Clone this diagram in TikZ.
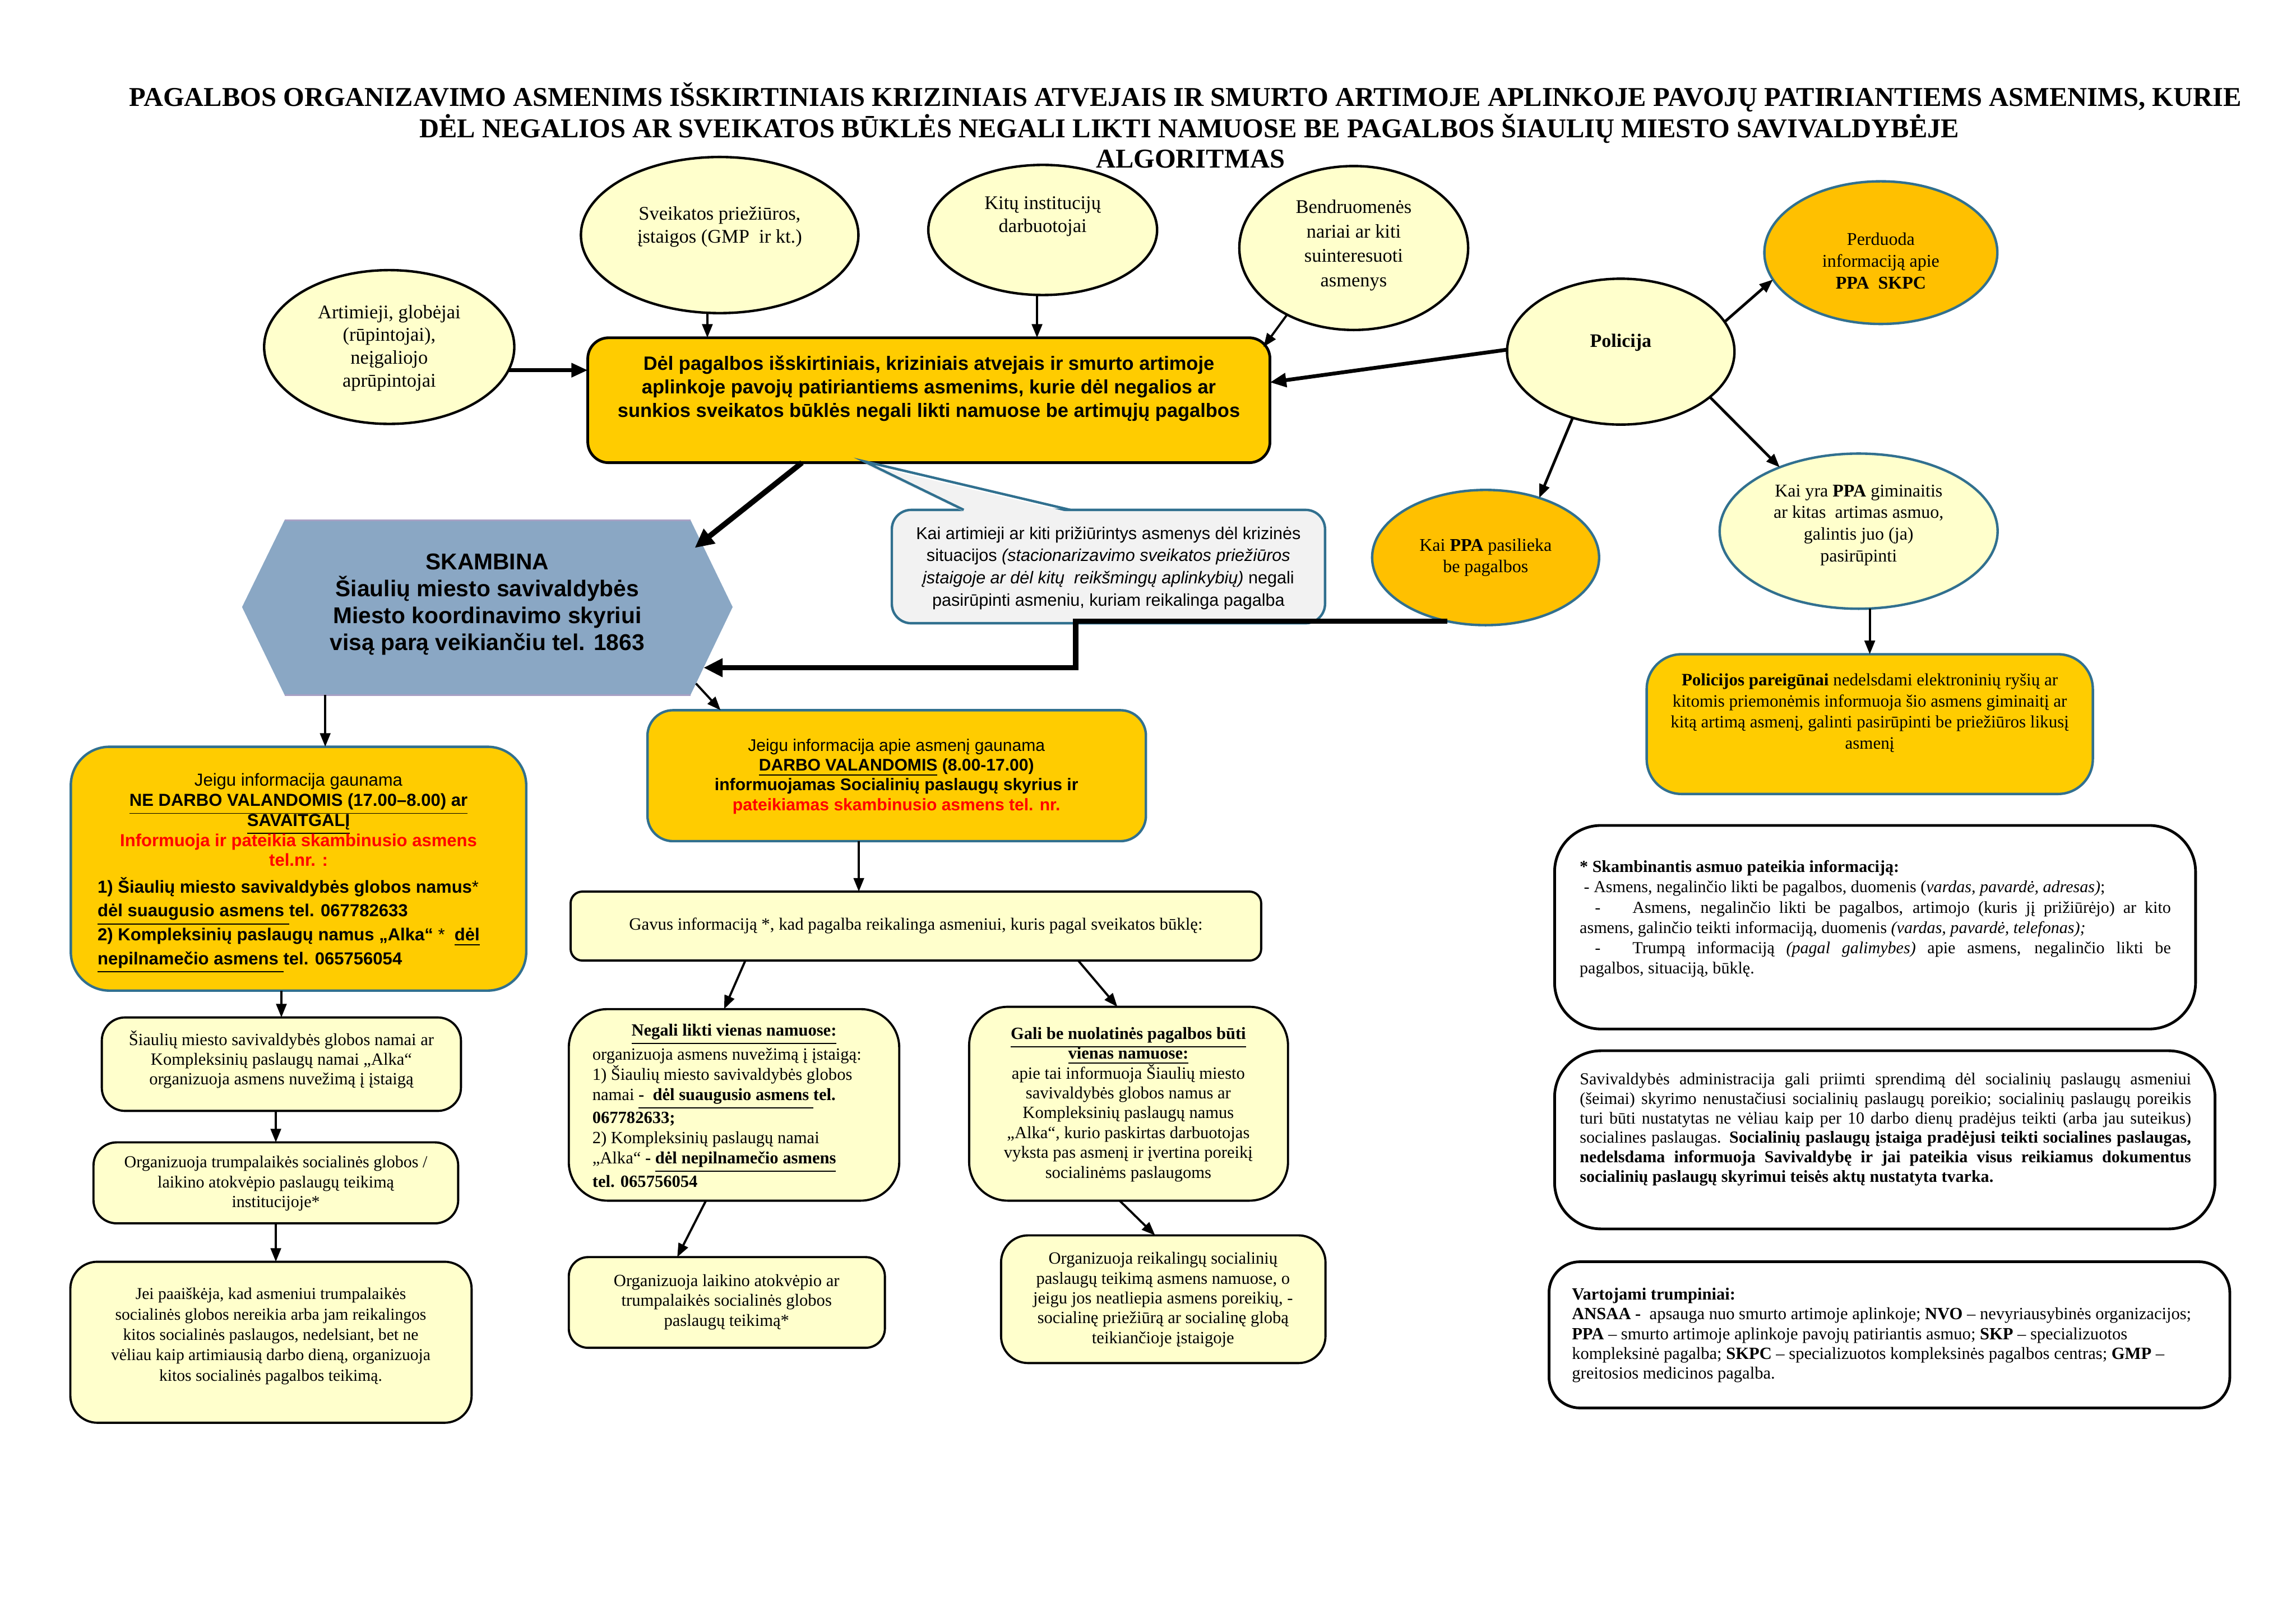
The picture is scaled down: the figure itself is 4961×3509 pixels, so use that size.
\documentclass[tikz,border=0pt]{standalone}
\usepackage{fontspec}
\setmainfont{Liberation Serif}
\setsansfont{Liberation Sans}
\usetikzlibrary{shapes.geometric,arrows.meta,fit,calc}
\definecolor{ly}{RGB}{255,255,204}
\definecolor{gold}{RGB}{255,204,0}
\definecolor{orng}{RGB}{255,192,0}
\definecolor{bord}{RGB}{49,112,143}
\definecolor{hexc}{RGB}{138,167,196}
\definecolor{callg}{RGB}{242,242,242}
\newcommand{\fz}[2]{\fontsize{#1}{#2}\selectfont}
\AtBeginDocument{\lineskiplimit=-\maxdimen}
\begin{document}
\begin{tikzpicture}[x=0.0059867cm, y=-0.0059867cm,
  every node/.style={inner sep=0pt, outer sep=0pt},
  ell/.style={ellipse, draw, line width=0.9pt, fill=ly},
  ellb/.style={ellipse, draw=bord, line width=0.9pt},
  rbox/.style={draw, line width=0.8pt, fill=ly},
  gbox/.style={draw=bord, line width=0.9pt, fill=gold},
  wbox/.style={draw, line width=1pt, fill=white},
  arr/.style={-{Triangle[length=5pt,width=3.8pt]}, line width=0.8pt},
  marr/.style={-{Triangle[length=6pt,width=5pt]}, line width=1.4pt},
  tarr/.style={-{Triangle[length=7pt,width=6.5pt]}, line width=2pt}]
\fill[white] (0,0) rectangle (4961,3509);
\useasboundingbox (0,0) rectangle (4961,3509);

% title
\node[font=\bfseries\fz{10}{11.3}, anchor=base] (t1) at (2561,230) {PAGALBOS ORGANIZAVIMO ASMENIMS IŠSKIRTINIAIS KRIZINIAIS ATVEJAIS IR SMURTO ARTIMOJE APLINKOJE PAVOJŲ PATIRIANTIEMS ASMENIMS, KURIE};
\node[font=\bfseries\fz{10}{11.3}, anchor=base] (t2) at (2570,297) {DĖL NEGALIOS AR SVEIKATOS BŪKLĖS NEGALI LIKTI NAMUOSE BE PAGALBOS ŠIAULIŲ MIESTO SAVIVALDYBĖJE};
\node[font=\bfseries\fz{10}{11.3}, anchor=base] (t3) at (2572,363) {ALGORITMAS};

% central box
\node[draw, line width=1pt, fill=gold, rounded corners=0.27cm, fit={(1270,730) (2744,1000)}] (central) {};
\node[font=\sffamily\bfseries\fz{7.1}{8.7}, align=center] (central-t) at (2007,840) {Dėl pagalbos išskirtiniais, kriziniais atvejais ir smurto artimoje\\aplinkoje pavojų patiriantiems asmenims, kurie dėl negalios ar\\sunkios sveikatos būklės negali likti namuose be artimųjų pagalbos};

% ellipses
\node[ell, minimum width=3.233cm, minimum height=1.988cm] (art) at (841,750) {};
\node[font=\fz{7.1}{8.4}, align=center] (art-t) at (841,752) {Artimieji, globėjai\\(rūpintojai),\\neįgaliojo\\aprūpintojai};
\node[ell, minimum width=3.586cm, minimum height=2.018cm] (sveik) at (1555,508) {};
\node[font=\fz{7.1}{8.4}, align=center] (sveik-t) at (1555,490) {Sveikatos priežiūros,\\įstaigos (GMP~ ir kt.)};
\node[ell, minimum width=2.957cm, minimum height=1.682cm] (kitu) at (2253,497) {};
\node[font=\fz{7.1}{8.4}, align=center] (kitu-t) at (2253,468) {Kitų institucijų\\darbuotojai};
\node[ell, minimum width=2.957cm, minimum height=2.119cm] (bendr) at (2925,536) {};
\node[font=\fz{7.1}{9}, align=center] (bendr-t) at (2925,530) {Bendruomenės\\nariai ar kiti\\suinteresuoti\\asmenys};
\node[ell, minimum width=2.939cm, minimum height=1.886cm] (pol) at (3502,760) {};
\node[font=\bfseries\fz{7}{8.4}] (pol-t) at (3502,740) {Policija};
\node[ellb, fill=orng, minimum width=3.011cm, minimum height=1.844cm] (perd) at (4064,546) {};
\node[font=\fz{6.6}{8.1}, align=center] (perd-t) at (4064,564) {Perduoda\\informaciją apie\\\textbf{PPA~ SKPC}};
\node[ellb, fill=orng, minimum width=2.933cm, minimum height=1.748cm] (kpp) at (3210,1205) {};
\node[font=\fz{6.6}{7.8}, align=center] (kpp-t) at (3210,1205) {Kai \textbf{PPA} pasilieka\\be pagalbos};
\node[ellb, fill=ly, minimum width=3.592cm, minimum height=2.006cm] (kyr) at (4016,1148) {};
\node[font=\fz{6.6}{8}, align=center] (kyr-t) at (4016,1135) {Kai yra \textbf{PPA} giminaitis\\ar kitas~ artimas asmuo,\\galintis juo (ja)\\pasirūpinti};

% police box
\node[gbox, rounded corners=0.45cm, fit={(3558,1414) (4522,1716)}] (polp) {};
\node[font=\fz{6.4}{7.75}, align=center] (polp-t) at (4040,1541) {\textbf{Policijos pareigūnai} nedelsdami elektroninių ryšių ar\\kitomis priemonėmis informuoja šio asmens giminaitį ar\\kitą artimą asmenį, galinti pasirūpinti be priežiūros likusį\\asmenį};

% hexagon
\coordinate (hNW) at (615,1124);
\coordinate (hNE) at (1492,1124);
\coordinate (hE) at (1583,1312);
\coordinate (hSE) at (1492,1502);
\coordinate (hSW) at (615,1502);
\coordinate (hW) at (523,1312);
\fill[hexc] (hNW) -- (hNE) -- (hE) -- (hSE) -- (hSW) -- (hW) -- cycle;
\draw[color={rgb,255:red,168;green,160;blue,196}, line width=0.6pt] (hNW) -- (hNE) (hSW) -- (hSE);
\node[font=\sffamily\bfseries\fz{8.4}{9.9}, align=center] (hex) at (1053,1306) {SKAMBINA\\Šiaulių miesto savivaldybės\\Miesto koordinavimo skyriui\\visą parą veikiančiu tel. 1863};
\coordinate (hin1) at ($(hNE)!0.32!(hE)+(-20,0)$);
\coordinate (hin2) at ($(hE)!0.69!(hSE)$);
\coordinate (hout) at ($(hE)!0.87!(hSE)$);
\coordinate (hbot) at ($(hSW)!0.1!(hSE)$);

% callout
\node[draw=bord, line width=0.9pt, fill=callg, rounded corners=0.25cm, fit={(1927,1102) (2863,1347)}] (call) {};
\coordinate (tipA) at ($(call.north west)!0.166!(call.north east)$);
\coordinate (tipB) at ($(call.north west)!0.412!(call.north east)$);
\coordinate (tip) at ($(central.south west)!0.405!(central.south east)$);
\fill[callg] ($(tipA)+(3,5)$) -- ($(tip)+(0,3)$) -- ($(tipB)+(-3,5)$) -- cycle;
\draw[bord, line width=0.9pt, line join=miter] (tipA) -- ($(tip)+(0,-3)$) -- (tipB);
\node[font=\sffamily\fz{6.3}{8.2}, align=center] (call-t) at (2395,1228) {Kai artimieji ar kiti prižiūrintys asmenys dėl krizinės\\situacijos \textit{(stacionarizavimo sveikatos priežiūros}\\\textit{įstaigoje ar dėl kitų~ reikšmingų aplinkybių)} negali\\pasirūpinti asmeniu, kuriam reikalinga pagalba};

% left column
\node[gbox, rounded corners=0.5cm, fit={(153,1614) (1137,2141)}] (nedarbo) {};
\node[font=\sffamily\fz{6.4}{7.4}, align=center] (nedarbo-t1) at (645,1772) {Jeigu informacija gaunama\\
\textbf{\underline{NE DARBO VALANDOMIS (17.00–8.00) ar}}\\
\textbf{\underline{SAVAITGALĮ}}\\
\textcolor{red}{\textbf{Informuoja ir pateikia skambinusio asmens}}\\
\textcolor{red}{\textbf{tel.nr. :}}};
\node[font=\sffamily\bfseries\fz{6.4}{8.8}, align=left, anchor=west] (nedarbo-t2) at (211,2000) {1) Šiaulių miesto savivaldybės globos namus{\mdseries*}\\
\underline{dėl suaugusio asmens }tel. 067782633\\
2) Kompleksinių paslaugų namus „Alka“ {\mdseries*}~~\underline{dėl}\\
\underline{nepilnamečio asmens }tel. 065756054};

\node[rbox, rounded corners=0.3cm, fit={(220,2199) (996,2401)}] (siaul) {};
\node[font=\fz{6.3}{7.3}, align=center] (siaul-t) at (608,2290) {Šiaulių miesto savivaldybės globos namai ar\\Kompleksinių paslaugų namai „Alka“\\organizuoja asmens nuvežimą į įstaigą};
\node[rbox, rounded corners=0.3cm, fit={(202,2469) (990,2644)}] (trump) {};
\node[font=\fz{6.2}{7.3}, align=center] (trump-t) at (596,2558) {Organizuoja trumpalaikės socialinės globos /\\laikino atokvėpio paslaugų teikimą\\institucijoje*};
\node[rbox, rounded corners=0.35cm, fit={(152,2727) (1019,3075)}] (jei) {};
\node[font=\fz{6.1}{7.5}, align=center] (jei-t) at (585,2888) {Jei paaiškėja, kad asmeniui trumpalaikės\\socialinės globos nereikia arba jam reikalingos\\kitos socialinės paslaugos, nedelsiant, bet ne\\vėliau kaip artimiausią darbo dieną, organizuoja\\kitos socialinės pagalbos teikimą.};

% middle column
\node[gbox, rounded corners=0.33cm, fit={(1399,1535) (2476,1818)}] (darbo) {};
\node[font=\sffamily\fz{6.2}{7.3}, align=center] (darbo-t) at (1937,1678) {Jeigu informacija apie asmenį gaunama\\\textbf{\underline{DARBO VALANDOMIS} (8.00-17.00)}\\\textbf{informuojamas Socialinių paslaugų skyrius ir}\\\textcolor{red}{\textbf{pateikiamas skambinusio asmens tel. nr.}}};
\node[rbox, rounded corners=0.15cm, fit={(1233,1927) (2725,2076)}] (gavus) {};
\node[font=\fz{6.35}{7.3}] (gavus-t) at (1979,2001) {Gavus informaciją *, kad pagalba reikalinga asmeniui, kuris pagal sveikatos būklę:};
\node[rbox, rounded corners=0.5cm, fit={(1229,2181) (1943,2595)}] (negali) {};
\node (negali-t) at (1586,2390) {\begin{minipage}{3.66cm}\fz{6.3}{7.4}
{\centering\textbf{\underline{Negali likti vienas namuose:}}\par}
organizuoja asmens nuvežimą į įstaigą:\\
1) Šiaulių miesto savivaldybės globos\\
namai \textbf{\underline{-~ dėl suaugusio asmens }tel.}\\
\textbf{067782633;}\\
2) Kompleksinių paslaugų namai\\
„Alka“ \textbf{- \underline{dėl nepilnamečio asmens}}\\
\textbf{tel. 065756054}
\end{minipage}};
\node[rbox, rounded corners=0.5cm, fit={(2094,2176) (2783,2595)}] (gali) {};
\node[font=\fz{6.3}{7.3}, align=center] (gali-t) at (2438,2387) {\textbf{\underline{Gali be nuolatinės pagalbos būti}}\\\textbf{\underline{vienas namuose:}}\\apie tai informuoja Šiaulių miesto\\savivaldybės globos namus ar\\Kompleksinių paslaugų namus\\„Alka“, kurio paskirtas darbuotojas\\vyksta pas asmenį ir įvertina poreikį\\socialinėms paslaugoms};
\node[rbox, rounded corners=0.25cm, fit={(1229,2717) (1912,2913)}] (laik) {};
\node[font=\fz{6.3}{7.3}, align=center] (laik-t) at (1570,2814) {Organizuoja laikino atokvėpio ar\\trumpalaikės socialinės globos\\paslaugų teikimą*};
\node[rbox, rounded corners=0.35cm, fit={(2163,2670) (2864,2946)}] (reik) {};
\node[font=\fz{6.3}{7.3}, align=center] (reik-t) at (2513,2809) {Organizuoja reikalingų socialinių\\paslaugų teikimą asmens namuose, o\\jeigu jos neatliepia asmens poreikių, -\\socialinę priežiūrą ar socialinę globą\\teikiančioje įstaigoje};

% right column
\node[wbox, rounded corners=0.6cm, fit={(3359,1784) (4744,2224)}] (info) {};
\node (info-t) at (4052,1986) {\begin{minipage}{7.64cm}\fz{6.2}{7.45}
\textbf{* Skambinantis asmuo pateikia informaciją:}\\
\hspace*{0.25em}- Asmens, negalinčio likti be pagalbos, duomenis (\textit{vardas, pavardė, adresas)};\\
\makebox[\linewidth][s]{\hspace*{0.9em}-\hspace*{1.9em}Asmens, negalinčio likti be pagalbos, artimojo (kuris jį prižiūrėjo) ar kito}\\
asmens, galinčio teikti informaciją, duomenis \textit{(vardas, pavardė, telefonas);}\\
\makebox[\linewidth][s]{\hspace*{0.9em}-\hspace*{1.9em}Trumpą informaciją \textit{(pagal galimybes)} apie asmens, negalinčio likti be}\\
pagalbos, situaciją, būklę.
\end{minipage}};
\node[wbox, rounded corners=0.6cm, fit={(3359,2271) (4786,2656)}] (savi) {};
\node (savi-t) at (4074,2441) {\begin{minipage}{7.9cm}\fz{6.2}{7.15}
\makebox[\linewidth][s]{Savivaldybės administracija gali priimti sprendimą dėl socialinių paslaugų asmeniui}\\
\makebox[\linewidth][s]{(šeimai) skyrimo nenustačiusi socialinių paslaugų poreikio; socialinių paslaugų poreikis}\\
\makebox[\linewidth][s]{turi būti nustatytas ne vėliau kaip per 10 darbo dienų pradėjus teikti (arba jau suteikus)}\\
\makebox[\linewidth][s]{socialines paslaugas. \textbf{Socialinių paslaugų įstaiga pradėjusi teikti socialines paslaugas,}}\\
\makebox[\linewidth][s]{\textbf{nedelsdama informuoja Savivaldybę ir jai pateikia visus reikiamus dokumentus}}\\
\textbf{socialinių paslaugų skyrimui teisės aktų nustatyta tvarka.}
\end{minipage}};
\node[wbox, rounded corners=0.4cm, fit={(3347,2727) (4818,3043)}] (abbr) {};
\node (abbr-t) at (4087,2886) {\begin{minipage}{8.26cm}\fz{6.3}{7.3}
\textbf{Vartojami trumpiniai:}\\
\textbf{ANSAA -}~ apsauga nuo smurto artimoje aplinkoje; \textbf{NVO} – nevyriausybinės organizacijos;\\
\textbf{PPA} – smurto artimoje aplinkoje pavojų patiriantis asmuo; \textbf{SKP} – specializuotos\\
kompleksinė pagalba; \textbf{SKPC} – specializuotos kompleksinės pagalbos centras; \textbf{GMP} –\\
greitosios medicinos pagalba.
\end{minipage}};

% connectors
\draw[marr] (art.-11) -- (art.-11 -| central.west);
\draw[arr] (sveik.261) -- (sveik.261 |- central.north);
\draw[arr] (kitu.265) -- (kitu.265 |- central.north);
\draw[arr] (bendr.225) -- ($(central.north east)+(-14,20)$);
\draw[marr] (pol.179) -- (central.3);
\draw[arr, line width=1pt] (pol.16) -- (perd.194);
\draw[arr, line width=1pt] (pol.234) -- (kpp.48);
\draw[arr, line width=1pt] (pol.333) -- (kyr.141);
\draw[arr] (polp.north |- kyr.south) -- (polp.north);
\draw[tarr] ($(central.south west)!0.314!(central.south east)$) -- (hin1);
\coordinate (cb) at ($(call.south west)!0.424!(call.south east)$);
\draw[tarr, line join=miter] (kpp.239) -- (kpp.239 -| cb) -- (cb |- hin2) -- (hin2);
\draw[arr] (hout) -- ($(darbo.north west)+(158,0)$);
\draw[arr] (hbot) -- (hbot |- nedarbo.north);
\draw[arr] (nedarbo.south -| siaul.north) -- (siaul.north);
\draw[arr] (siaul.south -| trump.north) -- (trump.north);
\draw[arr] (trump.south) -- (trump.south |- jei.north);
\coordinate (d1) at ($(darbo.south west)!0.424!(darbo.south east)$);
\draw[arr] (d1) -- (d1 |- gavus.north);
\draw[arr] ($(gavus.south west)!0.253!(gavus.south east)$) -- ($(negali.north west)!0.47!(negali.north east)$);
\draw[arr] ($(gavus.south west)!0.735!(gavus.south east)$) -- ($(gali.north west)!0.465!(gali.north east)$);
\draw[arr] ($(negali.south west)!0.415!(negali.south east)$) -- ($(laik.north west)!0.343!(laik.north east)$);
\draw[arr] ($(gali.south west)!0.472!(gali.south east)$) -- ($(reik.north west)!0.475!(reik.north east)$);
\end{tikzpicture}
\end{document}
